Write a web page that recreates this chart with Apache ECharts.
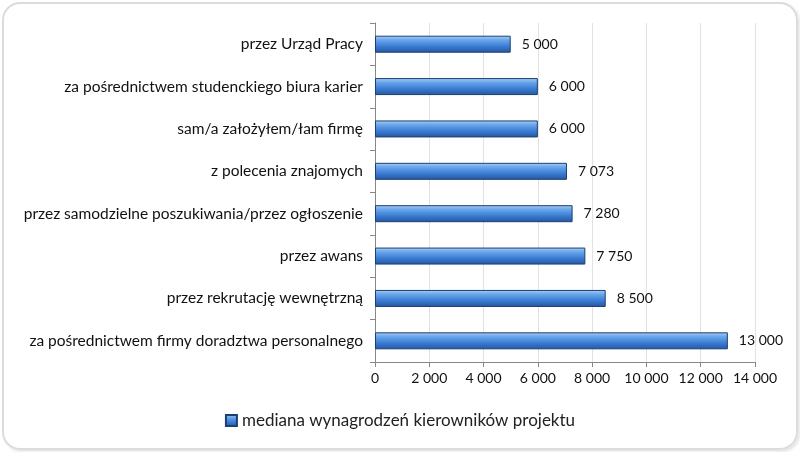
<!DOCTYPE html>
<html>
<head>
<meta charset="utf-8">
<script src="https://cdn.jsdelivr.net/npm/echarts@6/dist/echarts.min.js"></script>
<style>
  html, body { margin: 0; padding: 0; background: #fff; }
  #main { position: absolute; left: 2px; top: 2px; width: 792px; height: 444px;
          border: 2px solid #dcdcdc; border-radius: 18px; box-shadow: 2px 2px 3px #e6e6e6; }
</style>
</head>
<body>
<div id="main"></div>
<script>
// dane z wykresu (od dołu do góry)
var categories = [
  'za pośrednictwem firmy doradztwa personalnego',
  'przez rekrutację wewnętrzną',
  'przez awans',
  'przez samodzielne poszukiwania/przez ogłoszenie',
  'z polecenia znajomych',
  'sam/a założyłem/łam firmę',
  'za pośrednictwem studenckiego biura karier',
  'przez Urząd Pracy'
];
var values = [13000, 8500, 7750, 7280, 7073, 6000, 6000, 5000];
var seriesName = 'mediana wynagrodzeń kierowników projektu';

function fmt(v) {
  return String(v).replace(/\B(?=(\d{3})+(?!\d))/g, ' ');
}

var myChart = echarts.init(document.getElementById('main'));

var barColor = new echarts.graphic.LinearGradient(0, 0, 0, 1, [
  { offset: 0, color: '#a9d0f5' },
  { offset: 0.25, color: '#6aa6ea' },
  { offset: 0.6, color: '#3d7fd6' },
  { offset: 1, color: '#24569e' }
]);

var option = {
  textStyle: { fontFamily: 'Lato, "Open Sans", sans-serif' },
  grid: { left: 371, right: 41, top: 19, bottom: 86 },
  legend: {
    data: [seriesName],
    bottom: 14,
    left: 'center',
    itemWidth: 11,
    itemHeight: 11,
    icon: 'rect',
    itemGap: 6,
    textStyle: { fontSize: 17, color: '#222' }
  },
  xAxis: {
    type: 'value',
    min: 0,
    max: 14000,
    interval: 2000,
    axisLine: { show: true, lineStyle: { color: '#888' } },
    axisTick: { show: true, length: 5, lineStyle: { color: '#888' } },
    axisLabel: { color: '#111', fontSize: 14, margin: 9, formatter: fmt },
    splitLine: { show: true, lineStyle: { color: '#e2e2e2' } }
  },
  yAxis: {
    type: 'category',
    data: categories,
    axisLine: { show: true, lineStyle: { color: '#888' } },
    axisTick: { show: true, length: 5, lineStyle: { color: '#888' } },
    axisLabel: { color: '#111', fontSize: 15.5, margin: 12 }
  },
  series: [{
    name: seriesName,
    type: 'bar',
    data: values,
    barWidth: 17,
    itemStyle: { color: barColor, borderColor: '#1c3f73', borderWidth: 1 },
    label: {
      show: true,
      position: 'right',
      distance: 11,
      color: '#111',
      fontSize: 14,
      formatter: function (p) { return fmt(p.value); }
    }
  }]
};

myChart.setOption(option);
</script>
</body>
</html>
